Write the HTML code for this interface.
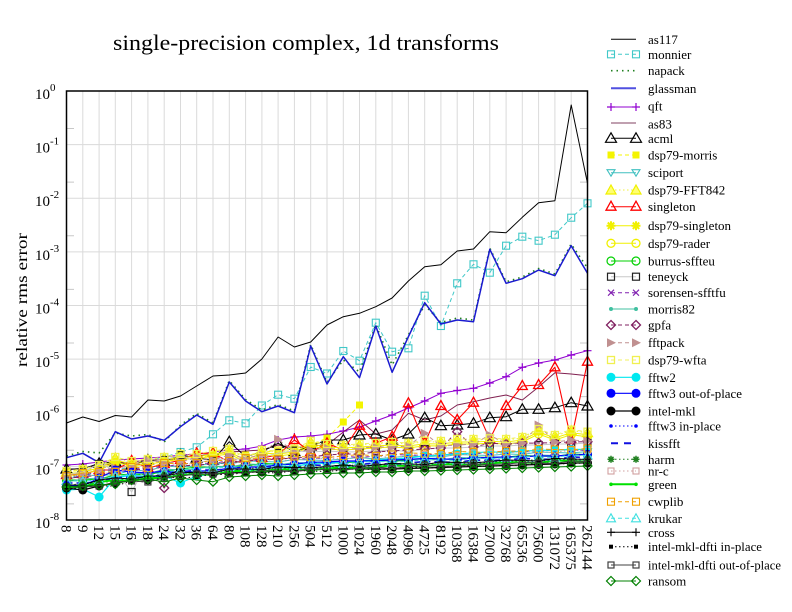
<!DOCTYPE html>
<html><head><meta charset="utf-8"><style>
html,body{margin:0;padding:0;background:#fff;}
svg{display:block;font-family:"Liberation Serif","DejaVu Serif",serif;}
</style></head><body>
<svg width="792" height="612" viewBox="0 0 792 612" xmlns="http://www.w3.org/2000/svg" xmlns:xlink="http://www.w3.org/1999/xlink">
<defs>
<marker id="mSqC" markerUnits="userSpaceOnUse" markerWidth="20" markerHeight="20" refX="10" refY="10" overflow="visible"><rect x="6.5" y="6.5" width="7" height="7" fill="none" stroke="#40c8c8" stroke-width="1.1"/></marker>
<marker id="mPlusP" markerUnits="userSpaceOnUse" markerWidth="20" markerHeight="20" refX="10" refY="10" overflow="visible"><path d="M6 10H14M10 6V14" stroke="#9000d0" stroke-width="1.2"/></marker>
<marker id="mTriK" markerUnits="userSpaceOnUse" markerWidth="20" markerHeight="20" refX="10" refY="10" overflow="visible"><path d="M10 4.5L15.5 14L4.5 14Z" fill="none" stroke="#000" stroke-width="1.2"/></marker>
<marker id="mSqY" markerUnits="userSpaceOnUse" markerWidth="20" markerHeight="20" refX="10" refY="10" overflow="visible"><rect x="6.5" y="6.5" width="7" height="7" fill="#f4f400"/></marker>
<marker id="mTriDT" markerUnits="userSpaceOnUse" markerWidth="20" markerHeight="20" refX="10" refY="10" overflow="visible"><path d="M10 13.5L14 7L6 7Z" fill="none" stroke="#40c0c0" stroke-width="1.1"/></marker>
<marker id="mTriY" markerUnits="userSpaceOnUse" markerWidth="20" markerHeight="20" refX="10" refY="10" overflow="visible"><path d="M10 5L15 14L5 14Z" fill="#ffff70" stroke="#f0f000" stroke-width="1.2"/></marker>
<marker id="mTriR" markerUnits="userSpaceOnUse" markerWidth="20" markerHeight="20" refX="10" refY="10" overflow="visible"><path d="M10 4.5L15 13.5L5 13.5Z" fill="none" stroke="#ff0000" stroke-width="1.3"/></marker>
<marker id="mStarY" markerUnits="userSpaceOnUse" markerWidth="20" markerHeight="20" refX="10" refY="10" overflow="visible"><path d="M5.5 10H14.5M10 5.5V14.5M6.8 6.8L13.2 13.2M13.2 6.8L6.8 13.2" stroke="#f0f000" stroke-width="2"/></marker>
<marker id="mCircY" markerUnits="userSpaceOnUse" markerWidth="20" markerHeight="20" refX="10" refY="10" overflow="visible"><circle cx="10" cy="10" r="4" fill="none" stroke="#f0f000" stroke-width="1.3"/></marker>
<marker id="mCircG" markerUnits="userSpaceOnUse" markerWidth="20" markerHeight="20" refX="10" refY="10" overflow="visible"><circle cx="10" cy="10" r="4" fill="none" stroke="#00d000" stroke-width="1.2"/></marker>
<marker id="mSqK" markerUnits="userSpaceOnUse" markerWidth="20" markerHeight="20" refX="10" refY="10" overflow="visible"><rect x="6.5" y="6.5" width="7" height="7" fill="none" stroke="#222" stroke-width="1.2"/></marker>
<marker id="mXP" markerUnits="userSpaceOnUse" markerWidth="20" markerHeight="20" refX="10" refY="10" overflow="visible"><path d="M7 7L13 13M13 7L7 13" stroke="#8020b0" stroke-width="1.1"/></marker>
<marker id="mDotT" markerUnits="userSpaceOnUse" markerWidth="20" markerHeight="20" refX="10" refY="10" overflow="visible"><circle cx="10" cy="10" r="2" fill="#40c0a0"/></marker>
<marker id="mDiaP" markerUnits="userSpaceOnUse" markerWidth="20" markerHeight="20" refX="10" refY="10" overflow="visible"><path d="M10 5.5L14.5 10L10 14.5L5.5 10Z" fill="none" stroke="#802060" stroke-width="1.3"/></marker>
<marker id="mTriRR" markerUnits="userSpaceOnUse" markerWidth="20" markerHeight="20" refX="10" refY="10" overflow="visible"><path d="M6 5.5L15 10L6 14.5Z" fill="#c09090"/></marker>
<marker id="mSqYo" markerUnits="userSpaceOnUse" markerWidth="20" markerHeight="20" refX="10" refY="10" overflow="visible"><rect x="6.5" y="6.5" width="7" height="7" fill="none" stroke="#f0f050" stroke-width="1.3"/></marker>
<marker id="mCircC" markerUnits="userSpaceOnUse" markerWidth="20" markerHeight="20" refX="10" refY="10" overflow="visible"><circle cx="10" cy="10" r="4.5" fill="#00e8f0"/></marker>
<marker id="mCircB" markerUnits="userSpaceOnUse" markerWidth="20" markerHeight="20" refX="10" refY="10" overflow="visible"><circle cx="10" cy="10" r="4.5" fill="#0000ff"/></marker>
<marker id="mCircK" markerUnits="userSpaceOnUse" markerWidth="20" markerHeight="20" refX="10" refY="10" overflow="visible"><circle cx="10" cy="10" r="4.5" fill="#000"/></marker>
<marker id="mDotB" markerUnits="userSpaceOnUse" markerWidth="20" markerHeight="20" refX="10" refY="10" overflow="visible"><circle cx="10" cy="10" r="1.8" fill="#0000ff"/></marker>
<marker id="mStarG" markerUnits="userSpaceOnUse" markerWidth="20" markerHeight="20" refX="10" refY="10" overflow="visible"><path d="M6.5 10H13.5M10 6.5V13.5M7.5 7.5L12.5 12.5M12.5 7.5L7.5 12.5" stroke="#208020" stroke-width="1.5"/></marker>
<marker id="mSqRo" markerUnits="userSpaceOnUse" markerWidth="20" markerHeight="20" refX="10" refY="10" overflow="visible"><rect x="7" y="7" width="6" height="6" fill="none" stroke="#d0a0a0" stroke-width="1.1"/></marker>
<marker id="mDotG" markerUnits="userSpaceOnUse" markerWidth="20" markerHeight="20" refX="10" refY="10" overflow="visible"><circle cx="10" cy="10" r="1.8" fill="#00e000"/></marker>
<marker id="mSqO" markerUnits="userSpaceOnUse" markerWidth="20" markerHeight="20" refX="10" refY="10" overflow="visible"><rect x="6.5" y="6.5" width="7" height="7" fill="none" stroke="#f0a000" stroke-width="1.1"/></marker>
<marker id="mTriC" markerUnits="userSpaceOnUse" markerWidth="20" markerHeight="20" refX="10" refY="10" overflow="visible"><path d="M10 5.5L14.5 13.5L5.5 13.5Z" fill="none" stroke="#40e0e0" stroke-width="1.1"/></marker>
<marker id="mPlusK" markerUnits="userSpaceOnUse" markerWidth="20" markerHeight="20" refX="10" refY="10" overflow="visible"><path d="M6 10H14M10 6V14" stroke="#000" stroke-width="1.1"/></marker>
<marker id="mSqKs" markerUnits="userSpaceOnUse" markerWidth="20" markerHeight="20" refX="10" refY="10" overflow="visible"><rect x="8" y="8" width="4" height="4" fill="#000"/></marker>
<marker id="mSqD" markerUnits="userSpaceOnUse" markerWidth="20" markerHeight="20" refX="10" refY="10" overflow="visible"><rect x="7" y="7" width="6" height="6" fill="none" stroke="#404040" stroke-width="1.2"/></marker>
<marker id="mDiaG" markerUnits="userSpaceOnUse" markerWidth="20" markerHeight="20" refX="10" refY="10" overflow="visible"><path d="M10 5.5L14.5 10L10 14.5L5.5 10Z" fill="none" stroke="#008000" stroke-width="1.2"/></marker>

<polyline id="P1" points="66.5,0 82.8,0 99.1,-5 115.3,-7 131.6,-6 147.9,-9 164.2,-9 180.5,-12 196.7,-13 213,-12 229.3,-16 245.6,-16 261.9,-15.5 278.1,-18 294.4,-17.5 310.7,-17 327,-18.5 343.3,-20 359.5,-18.5 375.8,-20 392.1,-21.5 408.4,-21 424.7,-20.5 440.9,-23 457.2,-22.5 473.5,-22 489.8,-23.5 506.1,-25 522.3,-24.5 538.6,-24 554.9,-26.5 571.2,-26 587.5,-25.5"/>
<polyline id="P2" points="66.5,1 82.8,-2 99.1,-3 115.3,-3 131.6,-8 147.9,-7 164.2,-12 180.5,-11 196.7,-12 213,-15 229.3,-14 245.6,-17 261.9,-16.5 278.1,-16 294.4,-18.5 310.7,-18 327,-17.5 343.3,-19 359.5,-20.5 375.8,-19 392.1,-20.5 408.4,-22 424.7,-21.5 440.9,-21 457.2,-23.5 473.5,-23 489.8,-22.5 506.1,-24 522.3,-23.5 538.6,-26 554.9,-25.5 571.2,-25 587.5,-26.5"/>
<polyline id="P3" points="66.5,-1 82.8,-1 99.1,-2 115.3,-6 131.6,-7 147.9,-6 164.2,-10 180.5,-12 196.7,-14 213,-14 229.3,-15 245.6,-15 261.9,-17.5 278.1,-17 294.4,-16.5 310.7,-19 327,-18.5 343.3,-18 359.5,-19.5 375.8,-21 392.1,-19.5 408.4,-21 424.7,-22.5 440.9,-22 457.2,-21.5 473.5,-24 489.8,-23.5 506.1,-24 522.3,-25.5 538.6,-25 554.9,-24.5 571.2,-27 587.5,-26.5"/>
<polyline id="PY" points="66.5,472 82.8,470 99.1,466 115.3,458 131.6,462 147.9,460 164.2,458 180.5,455 196.7,455 213,452 229.3,450 245.6,458 261.9,451 278.1,452 294.4,450 310.7,442 327,445 343.3,446 359.5,445 375.8,444 392.1,443 408.4,444 424.7,441.7 440.9,442 457.2,440 473.5,440 489.8,439.3 506.1,440 522.3,438 538.6,430 554.9,436 571.2,430.7 587.5,432.7"/>
</defs>

<rect width="792" height="612" fill="#fff"/>

<!-- grid -->
<g stroke="#dadada" stroke-width="1">
<path d="M82.8 91V520M99.1 91V520M115.3 91V520M131.6 91V520M147.9 91V520M164.2 91V520M180.5 91V520M196.7 91V520M213 91V520M229.3 91V520M245.6 91V520M261.9 91V520M278.1 91V520M294.4 91V520M310.7 91V520M327 91V520M343.3 91V520M359.5 91V520M375.8 91V520M392.1 91V520M408.4 91V520M424.7 91V520M440.9 91V520M457.2 91V520M473.5 91V520M489.8 91V520M506.1 91V520M522.3 91V520M538.6 91V520M554.9 91V520M571.2 91V520"/>
<path d="M66.5 144.6H587.5M66.5 198.25H587.5M66.5 251.9H587.5M66.5 305.5H587.5M66.5 359.1H587.5M66.5 412.75H587.5M66.5 466.4H587.5"/>
</g>
<g stroke="#c8c8c8" stroke-width="1">
<path d="M67 128.5H74M67 182.1H74M67 235.8H74M67 289.4H74M67 343H74M67 396.6H74M67 450.3H74M67 503.9H74M580 128.5H587M580 182.1H587M580 235.8H587M580 289.4H587M580 343H587M580 396.6H587M580 450.3H587M580 503.9H587"/>
</g>

<!-- series -->
<g fill="none" stroke-linejoin="round">
<polyline stroke="#000" stroke-width="1" points="66.5,423 82.8,417 99.1,421.5 115.3,415.5 131.6,417 147.9,400 164.2,401 180.5,396 196.7,386 213,376 229.3,375 245.6,373 261.9,359 278.1,337 294.4,347 310.7,342 327,325 343.3,316.7 359.5,313.3 375.8,306.7 392.1,298 408.4,281 424.7,266.7 440.9,264.7 457.2,251 473.5,249 489.8,231.7 506.1,232.7 522.3,217.3 538.6,202.7 554.9,200.7 571.2,105 587.5,183.3"/>
<polyline stroke="#40c8c8" stroke-width="1" stroke-dasharray="4,3" marker-start="url(#mSqC)" marker-mid="url(#mSqC)" marker-end="url(#mSqC)" points="66.5,478 82.8,476 99.1,472 115.3,470 131.6,467 147.9,460 164.2,457.3 180.5,452 196.7,447.3 213,434.3 229.3,420.3 245.6,423.3 261.9,405.5 278.1,394.7 294.4,398.7 310.7,367 327,373.5 343.3,351 359.5,360.7 375.8,322.7 392.1,351.7 408.4,348.3 424.7,295.7 440.9,326 457.2,283.3 473.5,264.3 489.8,272.7 506.1,245.7 522.3,236.7 538.6,240.7 554.9,234.7 571.2,217.7 587.5,203.3"/>
<polyline stroke="#208020" stroke-width="1.6" stroke-dasharray="1.5,4" points="66.5,456 82.8,451.5 99.1,453 115.3,433 131.6,436 147.9,434.5 164.2,442 180.5,425 196.7,413.5 213,422.8 229.3,380.5 245.6,399.5 261.9,410 278.1,404.5 294.4,411 310.7,344.5 327,382.5 343.3,360 359.5,372 375.8,324.5 392.1,365 408.4,335 424.7,305 440.9,322.5 457.2,318 473.5,320 489.8,248 506.1,281.8 522.3,277 538.6,268.5 554.9,274 571.2,244 587.5,268"/>
<polyline stroke="#1a1ad0" stroke-width="1.5" points="66.5,457.7 82.8,453.3 99.1,462.7 115.3,431.7 131.6,439 147.9,436 164.2,440.3 180.5,426.7 196.7,415 213,424.3 229.3,382 245.6,401 261.9,411.7 278.1,406 294.4,412.7 310.7,346 327,384 343.3,356.7 359.5,377.7 375.8,326 392.1,372.3 408.4,336.7 424.7,302.7 440.9,324 457.2,320 473.5,321.7 489.8,249.3 506.1,283.3 522.3,278.7 538.6,270 554.9,275.7 571.2,245.7 587.5,273.3"/>
<polyline stroke="#9000d0" stroke-width="1" marker-start="url(#mPlusP)" marker-mid="url(#mPlusP)" marker-end="url(#mPlusP)" points="66.5,465 82.8,464 99.1,462 115.3,460 131.6,459 147.9,458 164.2,457 180.5,455 196.7,454 213,452 229.3,450 245.6,449 261.9,446 278.1,440 294.4,437 310.7,436 327,434.3 343.3,431 359.5,427 375.8,421 392.1,415 408.4,408 424.7,401 440.9,393.3 457.2,390.5 473.5,388.3 489.8,383 506.1,376.7 522.3,367.3 538.6,363 554.9,360 571.2,355 587.5,350.7"/>
<polyline stroke="#802050" stroke-width="1" points="66.5,470 82.8,468 99.1,466 115.3,463 131.6,462 147.9,460 164.2,460 180.5,458 196.7,456 213,454 229.3,452 245.6,451 261.9,450 278.1,445 294.4,448 310.7,446 327,445 343.3,432 359.5,420 375.8,434 392.1,430 408.4,413.3 424.7,420 440.9,416 457.2,405 473.5,401.7 489.8,398 506.1,395 522.3,400 538.6,387 554.9,372.7 571.2,374 587.5,375.7"/>
<polyline stroke="#000" stroke-width="1" marker-start="url(#mTriK)" marker-mid="url(#mTriK)" marker-end="url(#mTriK)" points="66.5,469 82.8,469 99.1,463.3 115.3,462 131.6,465 147.9,460 164.2,461.7 180.5,455 196.7,458 213,460 229.3,441.7 245.6,456.7 261.9,451.7 278.1,443.3 294.4,451.7 310.7,446 327,440 343.3,440 359.5,435 375.8,434 392.1,440 408.4,434 424.7,417.7 440.9,425.7 457.2,425 473.5,423.3 489.8,417.7 506.1,416.7 522.3,409.3 538.6,409.3 554.9,407.7 571.2,402.7 587.5,406"/>
<polyline stroke="#f4f400" stroke-width="1" stroke-dasharray="4,3" marker-start="url(#mSqY)" marker-mid="url(#mSqY)" marker-end="url(#mSqY)" points="66.5,472 82.8,470 99.1,468 115.3,463 131.6,465 147.9,463 164.2,462 180.5,458 196.7,458 213,455 229.3,452 245.6,455 261.9,453 278.1,450 294.4,448 310.7,445 327,438 343.3,422 359.5,405"/>
<use xlink:href="#P2" href="#P2" transform="translate(0,478)" stroke="#40c0c0" stroke-width="1" marker-start="url(#mTriDT)" marker-mid="url(#mTriDT)" marker-end="url(#mTriDT)"/>
<use xlink:href="#PY" href="#PY" transform="translate(0,0)" stroke="#f0f040" stroke-width="1" stroke-dasharray="1.5,2.5" marker-start="url(#mTriY)" marker-mid="url(#mTriY)" marker-end="url(#mTriY)"/>
<polyline stroke="#ff0000" stroke-width="1.1" marker-start="url(#mTriR)" marker-mid="url(#mTriR)" marker-end="url(#mTriR)" points="66.5,475 82.8,474 99.1,470 115.3,470 131.6,461 147.9,468 164.2,464 180.5,460 196.7,453.3 213,453.3 229.3,462 245.6,462 261.9,458 278.1,455 294.4,440 310.7,452 327,443.3 343.3,450 359.5,425.7 375.8,443.3 392.1,436.7 408.4,403.3 424.7,443.3 440.9,406 457.2,420 473.5,402.7 489.8,439.3 506.1,406 522.3,386 538.6,385 554.9,367.3 571.2,440 587.5,361.7"/>
<use xlink:href="#PY" href="#PY" transform="translate(0,2)" stroke="#f0f000" stroke-width="1" marker-start="url(#mStarY)" marker-mid="url(#mStarY)" marker-end="url(#mStarY)"/>
<use xlink:href="#PY" href="#PY" transform="translate(0,4)" stroke="#f0f000" stroke-width="1" marker-start="url(#mCircY)" marker-mid="url(#mCircY)" marker-end="url(#mCircY)"/>
<use xlink:href="#P3" href="#P3" transform="translate(0,481)" stroke="#00d000" stroke-width="1" marker-start="url(#mCircG)" marker-mid="url(#mCircG)" marker-end="url(#mCircG)"/>
<polyline stroke="#c8c8c8" stroke-width="1" marker-start="url(#mSqK)" marker-mid="url(#mSqK)" marker-end="url(#mSqK)" points="66.5,475 82.8,472 99.1,464 115.3,470 131.6,492 147.9,462 164.2,460 180.5,455 196.7,462 213,460.7 229.3,458 245.6,460 261.9,457.7 278.1,453 294.4,450.7 310.7,452 327,451 343.3,452 359.5,451.7 375.8,451 392.1,450 408.4,451.7 424.7,449 440.9,448 457.2,448 473.5,447 489.8,446 506.1,446 522.3,445 538.6,445 554.9,444 571.2,444 587.5,443"/>
<use xlink:href="#P1" href="#P1" transform="translate(0,476)" stroke="#8020b0" stroke-width="1" stroke-dasharray="4,3" marker-start="url(#mXP)" marker-mid="url(#mXP)" marker-end="url(#mXP)"/>
<use xlink:href="#P2" href="#P2" transform="translate(0,481)" stroke="#40c0a0" stroke-width="1" marker-start="url(#mDotT)" marker-mid="url(#mDotT)" marker-end="url(#mDotT)"/>
<polyline stroke="#802060" stroke-width="1" stroke-dasharray="4,3" marker-start="url(#mDiaP)" marker-mid="url(#mDiaP)" marker-end="url(#mDiaP)" points="66.5,478 82.8,477 99.1,475 115.3,472 131.6,470 147.9,469 164.2,488 180.5,466 196.7,465 213,464 229.3,462 245.6,461 261.9,460 278.1,459 294.4,458 310.7,457 327,455 343.3,454 359.5,454 375.8,452 392.1,451 408.4,450 424.7,449 440.9,448 457.2,431.7 473.5,447 489.8,443.3 506.1,444 522.3,443.3 538.6,443 554.9,442.7 571.2,442 587.5,441.7"/>
<polyline stroke="#c09090" stroke-width="1" stroke-dasharray="4,3" marker-start="url(#mTriRR)" marker-mid="url(#mTriRR)" marker-end="url(#mTriRR)" points="66.5,475 82.8,474 99.1,470 115.3,468 131.6,466 147.9,460 164.2,463 180.5,462 196.7,457 213,460 229.3,455 245.6,458 261.9,455 278.1,439.3 294.4,452 310.7,450 327,448 343.3,450 359.5,448 375.8,447 392.1,447 408.4,446 424.7,433.3 440.9,446 457.2,445 473.5,444 489.8,435 506.1,444 522.3,443 538.6,425 554.9,442 571.2,440 587.5,441"/>
<use xlink:href="#PY" href="#PY" transform="translate(0,-1)" stroke="#f0f060" stroke-width="1" stroke-dasharray="4,3" marker-start="url(#mSqYo)" marker-mid="url(#mSqYo)" marker-end="url(#mSqYo)"/>
<polyline stroke="#00e8f0" stroke-width="1.2" marker-start="url(#mCircC)" marker-mid="url(#mCircC)" marker-end="url(#mCircC)" points="66.5,490 82.8,489 99.1,497 115.3,478 131.6,475 147.9,477 164.2,476 180.5,483 196.7,476 213,474 229.3,472 245.6,470 261.9,469 278.1,467 294.4,466 310.7,464 327,463 343.3,462 359.5,461 375.8,460 392.1,459 408.4,458 424.7,456 440.9,455 457.2,454 473.5,453 489.8,451.7 506.1,452.7 522.3,451 538.6,450.5 554.9,450 571.2,449.5 587.5,449.3"/>
<polyline stroke="#0000ff" stroke-width="1.2" marker-start="url(#mCircB)" marker-mid="url(#mCircB)" marker-end="url(#mCircB)" points="66.5,485 82.8,486 99.1,478 115.3,470 131.6,472 147.9,473 164.2,471 180.5,473 196.7,471 213,471 229.3,468 245.6,467 261.9,467 278.1,465 294.4,464 310.7,462.5 327,462 343.3,461 359.5,461 375.8,460.7 392.1,460 408.4,459.5 424.7,458.3 440.9,459 457.2,459.3 473.5,458 489.8,457.3 506.1,457 522.3,456.7 538.6,456 554.9,456 571.2,455 587.5,454.3"/>
<polyline stroke="#000" stroke-width="1.2" marker-start="url(#mCircK)" marker-mid="url(#mCircK)" marker-end="url(#mCircK)" points="66.5,488 82.8,490 99.1,486 115.3,483 131.6,480 147.9,480 164.2,476 180.5,470 196.7,474 213,474 229.3,473 245.6,472 261.9,472 278.1,471 294.4,471 310.7,470 327,469 343.3,468.5 359.5,469 375.8,469 392.1,469 408.4,468.5 424.7,468 440.9,467.5 457.2,467 473.5,466.5 489.8,466 506.1,465.5 522.3,465 538.6,464.5 554.9,464 571.2,463 587.5,463"/>
<use xlink:href="#P1" href="#P1" transform="translate(0,486)" stroke="#0000ff" stroke-width="1" stroke-dasharray="1.5,2.5" marker-start="url(#mDotB)" marker-mid="url(#mDotB)" marker-end="url(#mDotB)"/>
<use xlink:href="#P3" href="#P3" transform="translate(0,484)" stroke="#1010e0" stroke-width="1.6" stroke-dasharray="6,4"/>
<use xlink:href="#P2" href="#P2" transform="translate(0,485)" stroke="#208020" stroke-width="1" stroke-dasharray="1.5,2.5" marker-start="url(#mStarG)" marker-mid="url(#mStarG)" marker-end="url(#mStarG)"/>
<use xlink:href="#P3" href="#P3" transform="translate(0,477)" stroke="#d0a0a0" stroke-width="1" stroke-dasharray="1.5,2.5" marker-start="url(#mSqRo)" marker-mid="url(#mSqRo)" marker-end="url(#mSqRo)"/>
<use xlink:href="#P1" href="#P1" transform="translate(0,487)" stroke="#00e000" stroke-width="2" marker-start="url(#mDotG)" marker-mid="url(#mDotG)" marker-end="url(#mDotG)"/>
<use xlink:href="#P2" href="#P2" transform="translate(0,475)" stroke="#f0a000" stroke-width="1" stroke-dasharray="4,3" marker-start="url(#mSqO)" marker-mid="url(#mSqO)" marker-end="url(#mSqO)"/>
<use xlink:href="#P3" href="#P3" transform="translate(0,482)" stroke="#40e0e0" stroke-width="1" stroke-dasharray="4,3" marker-start="url(#mTriC)" marker-mid="url(#mTriC)" marker-end="url(#mTriC)"/>
<use xlink:href="#P1" href="#P1" transform="translate(0,485)" stroke="#000" stroke-width="1" marker-start="url(#mPlusK)" marker-mid="url(#mPlusK)" marker-end="url(#mPlusK)"/>
<use xlink:href="#P2" href="#P2" transform="translate(0,489)" stroke="#000" stroke-width="1" stroke-dasharray="1.5,2.5" marker-start="url(#mSqKs)" marker-mid="url(#mSqKs)" marker-end="url(#mSqKs)"/>
<use xlink:href="#P3" href="#P3" transform="translate(0,488)" stroke="#404040" stroke-width="1" marker-start="url(#mSqD)" marker-mid="url(#mSqD)" marker-end="url(#mSqD)"/>
<polyline stroke="#008000" stroke-width="1" marker-start="url(#mDiaG)" marker-mid="url(#mDiaG)" marker-end="url(#mDiaG)" points="66.5,487 82.8,486 99.1,485 115.3,484 131.6,480 147.9,479 164.2,482 180.5,478 196.7,480 213,481.7 229.3,477 245.6,476 261.9,475 278.1,476 294.4,475 310.7,474 327,473.5 343.3,473 359.5,473 375.8,472 392.1,472 408.4,471 424.7,471 440.9,470.5 457.2,470 473.5,469.5 489.8,469 506.1,468.5 522.3,468 538.6,467.5 554.9,467 571.2,466.5 587.5,466"/>
</g>

<!-- frame -->
<rect x="66.5" y="91" width="521" height="429" fill="none" stroke="#000" stroke-width="1.5"/>

<!-- title -->
<text x="306" y="50" font-size="22" text-anchor="middle" textLength="386" lengthAdjust="spacingAndGlyphs">single-precision complex, 1d transforms</text>

<!-- y label -->
<text transform="translate(27,300) rotate(-90)" font-size="16" text-anchor="middle" textLength="134" lengthAdjust="spacingAndGlyphs">relative rms error</text>

<!-- y ticks -->
<g font-size="15">
<text x="35" y="99">10</text><text x="50" y="91" font-size="11">0</text>
<text x="35" y="152.6">10</text><text x="50" y="144.6" font-size="11">-1</text>
<text x="35" y="206.2">10</text><text x="50" y="198.2" font-size="11">-2</text>
<text x="35" y="259.9">10</text><text x="50" y="251.9" font-size="11">-3</text>
<text x="35" y="313.5">10</text><text x="50" y="305.5" font-size="11">-4</text>
<text x="35" y="367.1">10</text><text x="50" y="359.1" font-size="11">-5</text>
<text x="35" y="420.7">10</text><text x="50" y="412.7" font-size="11">-6</text>
<text x="35" y="474.4">10</text><text x="50" y="466.4" font-size="11">-7</text>
<text x="35" y="528">10</text><text x="50" y="520" font-size="11">-8</text>
</g>

<!-- x ticks -->
<g font-size="15">
<text transform="translate(61.5,525) rotate(90)">8</text>
<text transform="translate(77.8,525) rotate(90)">9</text>
<text transform="translate(94.1,525) rotate(90)">12</text>
<text transform="translate(110.3,525) rotate(90)">15</text>
<text transform="translate(126.6,525) rotate(90)">16</text>
<text transform="translate(142.9,525) rotate(90)">18</text>
<text transform="translate(159.2,525) rotate(90)">24</text>
<text transform="translate(175.5,525) rotate(90)">32</text>
<text transform="translate(191.7,525) rotate(90)">36</text>
<text transform="translate(208,525) rotate(90)">64</text>
<text transform="translate(224.3,525) rotate(90)">80</text>
<text transform="translate(240.6,525) rotate(90)">108</text>
<text transform="translate(256.9,525) rotate(90)">128</text>
<text transform="translate(273.1,525) rotate(90)">210</text>
<text transform="translate(289.4,525) rotate(90)">256</text>
<text transform="translate(305.7,525) rotate(90)">504</text>
<text transform="translate(322,525) rotate(90)">512</text>
<text transform="translate(338.3,525) rotate(90)">1000</text>
<text transform="translate(354.5,525) rotate(90)">1024</text>
<text transform="translate(370.8,525) rotate(90)">1960</text>
<text transform="translate(387.1,525) rotate(90)">2048</text>
<text transform="translate(403.4,525) rotate(90)">4096</text>
<text transform="translate(419.7,525) rotate(90)">4725</text>
<text transform="translate(435.9,525) rotate(90)">8192</text>
<text transform="translate(452.2,525) rotate(90)">10368</text>
<text transform="translate(468.5,525) rotate(90)">16384</text>
<text transform="translate(484.8,525) rotate(90)">27000</text>
<text transform="translate(501.1,525) rotate(90)">32768</text>
<text transform="translate(517.3,525) rotate(90)">65536</text>
<text transform="translate(533.6,525) rotate(90)">75600</text>
<text transform="translate(549.9,525) rotate(90)">131072</text>
<text transform="translate(566.2,525) rotate(90)">165375</text>
<text transform="translate(582.5,525) rotate(90)">262144</text>
</g>

<!-- legend -->
<g fill="none">
<line x1="611" y1="39.3" x2="636" y2="39.3" stroke="#000"/>
<line x1="611" y1="54.3" x2="636" y2="54.3" stroke="#40c8c8" stroke-dasharray="4,3" marker-start="url(#mSqC)" marker-end="url(#mSqC)"/>
<line x1="611" y1="70.7" x2="636" y2="70.7" stroke="#208020" stroke-width="1.6" stroke-dasharray="1.5,4"/>
<line x1="611" y1="88.3" x2="636" y2="88.3" stroke="#5050e0" stroke-width="2"/>
<line x1="611" y1="107" x2="636" y2="107" stroke="#9000d0" marker-start="url(#mPlusP)" marker-end="url(#mPlusP)"/>
<line x1="611" y1="123" x2="636" y2="123" stroke="#804060"/>
<line x1="611" y1="138.3" x2="636" y2="138.3" stroke="#000" marker-start="url(#mTriK)" marker-end="url(#mTriK)"/>
<line x1="611" y1="155" x2="636" y2="155" stroke="#f4f400" stroke-dasharray="4,3" marker-start="url(#mSqY)" marker-end="url(#mSqY)"/>
<line x1="611" y1="172.7" x2="636" y2="172.7" stroke="#40c0c0" marker-start="url(#mTriDT)" marker-end="url(#mTriDT)"/>
<line x1="611" y1="190" x2="636" y2="190" stroke="#f0f040" stroke-dasharray="1.5,2.5" marker-start="url(#mTriY)" marker-end="url(#mTriY)"/>
<line x1="611" y1="206.7" x2="636" y2="206.7" stroke="#ff0000" marker-start="url(#mTriR)" marker-end="url(#mTriR)"/>
<line x1="611" y1="225.7" x2="636" y2="225.7" stroke="#f0f000" marker-start="url(#mStarY)" marker-end="url(#mStarY)"/>
<line x1="611" y1="243.3" x2="636" y2="243.3" stroke="#f0f000" marker-start="url(#mCircY)" marker-end="url(#mCircY)"/>
<line x1="611" y1="261" x2="636" y2="261" stroke="#00d000" marker-start="url(#mCircG)" marker-end="url(#mCircG)"/>
<line x1="611" y1="276.7" x2="636" y2="276.7" stroke="#c8c8c8" marker-start="url(#mSqK)" marker-end="url(#mSqK)"/>
<line x1="611" y1="292.7" x2="636" y2="292.7" stroke="#8020b0" stroke-dasharray="4,3" marker-start="url(#mXP)" marker-end="url(#mXP)"/>
<line x1="611" y1="309" x2="636" y2="309" stroke="#40c0a0" marker-start="url(#mDotT)" marker-end="url(#mDotT)"/>
<line x1="611" y1="325" x2="636" y2="325" stroke="#802060" stroke-dasharray="4,3" marker-start="url(#mDiaP)" marker-end="url(#mDiaP)"/>
<line x1="611" y1="342.7" x2="636" y2="342.7" stroke="#c09090" stroke-dasharray="4,3" marker-start="url(#mTriRR)" marker-end="url(#mTriRR)"/>
<line x1="611" y1="360" x2="636" y2="360" stroke="#f0f060" stroke-dasharray="4,3" marker-start="url(#mSqYo)" marker-end="url(#mSqYo)"/>
<line x1="611" y1="377.3" x2="636" y2="377.3" stroke="#00e8f0" stroke-width="1.2" marker-start="url(#mCircC)" marker-end="url(#mCircC)"/>
<line x1="611" y1="393.3" x2="636" y2="393.3" stroke="#0000ff" stroke-width="1.2" marker-start="url(#mCircB)" marker-end="url(#mCircB)"/>
<line x1="611" y1="411" x2="636" y2="411" stroke="#000" stroke-width="1.2" marker-start="url(#mCircK)" marker-end="url(#mCircK)"/>
<line x1="611" y1="426" x2="636" y2="426" stroke="#0000ff" stroke-dasharray="1.5,2.5" marker-start="url(#mDotB)" marker-end="url(#mDotB)"/>
<line x1="611" y1="443.3" x2="636" y2="443.3" stroke="#1010e0" stroke-width="2" stroke-dasharray="7,6"/>
<line x1="611" y1="459.3" x2="636" y2="459.3" stroke="#208020" stroke-dasharray="1.5,2.5" marker-start="url(#mStarG)" marker-end="url(#mStarG)"/>
<line x1="611" y1="471" x2="636" y2="471" stroke="#d0a0a0" stroke-dasharray="1.5,2.5" marker-start="url(#mSqRo)" marker-end="url(#mSqRo)"/>
<line x1="611" y1="484.3" x2="636" y2="484.3" stroke="#00e000" stroke-width="2" marker-start="url(#mDotG)" marker-end="url(#mDotG)"/>
<line x1="611" y1="501.7" x2="636" y2="501.7" stroke="#f0a000" stroke-dasharray="4,3" marker-start="url(#mSqO)" marker-end="url(#mSqO)"/>
<line x1="611" y1="518.3" x2="636" y2="518.3" stroke="#40e0e0" stroke-dasharray="4,3" marker-start="url(#mTriC)" marker-end="url(#mTriC)"/>
<line x1="611" y1="532.3" x2="636" y2="532.3" stroke="#000" marker-start="url(#mPlusK)" marker-end="url(#mPlusK)"/>
<line x1="611" y1="546.7" x2="636" y2="546.7" stroke="#000" stroke-dasharray="1.5,2.5" marker-start="url(#mSqKs)" marker-end="url(#mSqKs)"/>
<line x1="611" y1="565" x2="636" y2="565" stroke="#404040" marker-start="url(#mSqD)" marker-end="url(#mSqD)"/>
<line x1="611" y1="581" x2="636" y2="581" stroke="#008000" marker-start="url(#mDiaG)" marker-end="url(#mDiaG)"/>
</g>
<g font-size="13" fill="#000">
<text x="648" y="43.8">as117</text>
<text x="648" y="58.8">monnier</text>
<text x="648" y="75.2">napack</text>
<text x="648" y="92.8">glassman</text>
<text x="648" y="110.5">qft</text>
<text x="648" y="128.5">as83</text>
<text x="648" y="142.8">acml</text>
<text x="648" y="159.5">dsp79-morris</text>
<text x="648" y="177.2">sciport</text>
<text x="648" y="194.5">dsp79-FFT842</text>
<text x="648" y="211.2">singleton</text>
<text x="648" y="230.2">dsp79-singleton</text>
<text x="648" y="247.8">dsp79-rader</text>
<text x="648" y="265.5">burrus-sffteu</text>
<text x="648" y="281.2">teneyck</text>
<text x="648" y="297.2">sorensen-sfftfu</text>
<text x="648" y="313.5">morris82</text>
<text x="648" y="329.5">gpfa</text>
<text x="648" y="347.2">fftpack</text>
<text x="648" y="364.5">dsp79-wfta</text>
<text x="648" y="381.8">fftw2</text>
<text x="648" y="397.8" textLength="94" lengthAdjust="spacingAndGlyphs">fftw3 out-of-place</text>
<text x="648" y="415.5">intel-mkl</text>
<text x="648" y="430.5">fftw3 in-place</text>
<text x="648" y="447.8">kissfft</text>
<text x="648" y="463.8">harm</text>
<text x="648" y="475.5">nr-c</text>
<text x="648" y="488.8">green</text>
<text x="648" y="506.2">cwplib</text>
<text x="648" y="522.8">krukar</text>
<text x="648" y="536.8">cross</text>
<text x="648" y="551.2" textLength="114" lengthAdjust="spacingAndGlyphs">intel-mkl-dfti in-place</text>
<text x="648" y="569.5" textLength="133" lengthAdjust="spacingAndGlyphs">intel-mkl-dfti out-of-place</text>
<text x="648" y="585.5">ransom</text>
</g>
</svg>
</body></html>
